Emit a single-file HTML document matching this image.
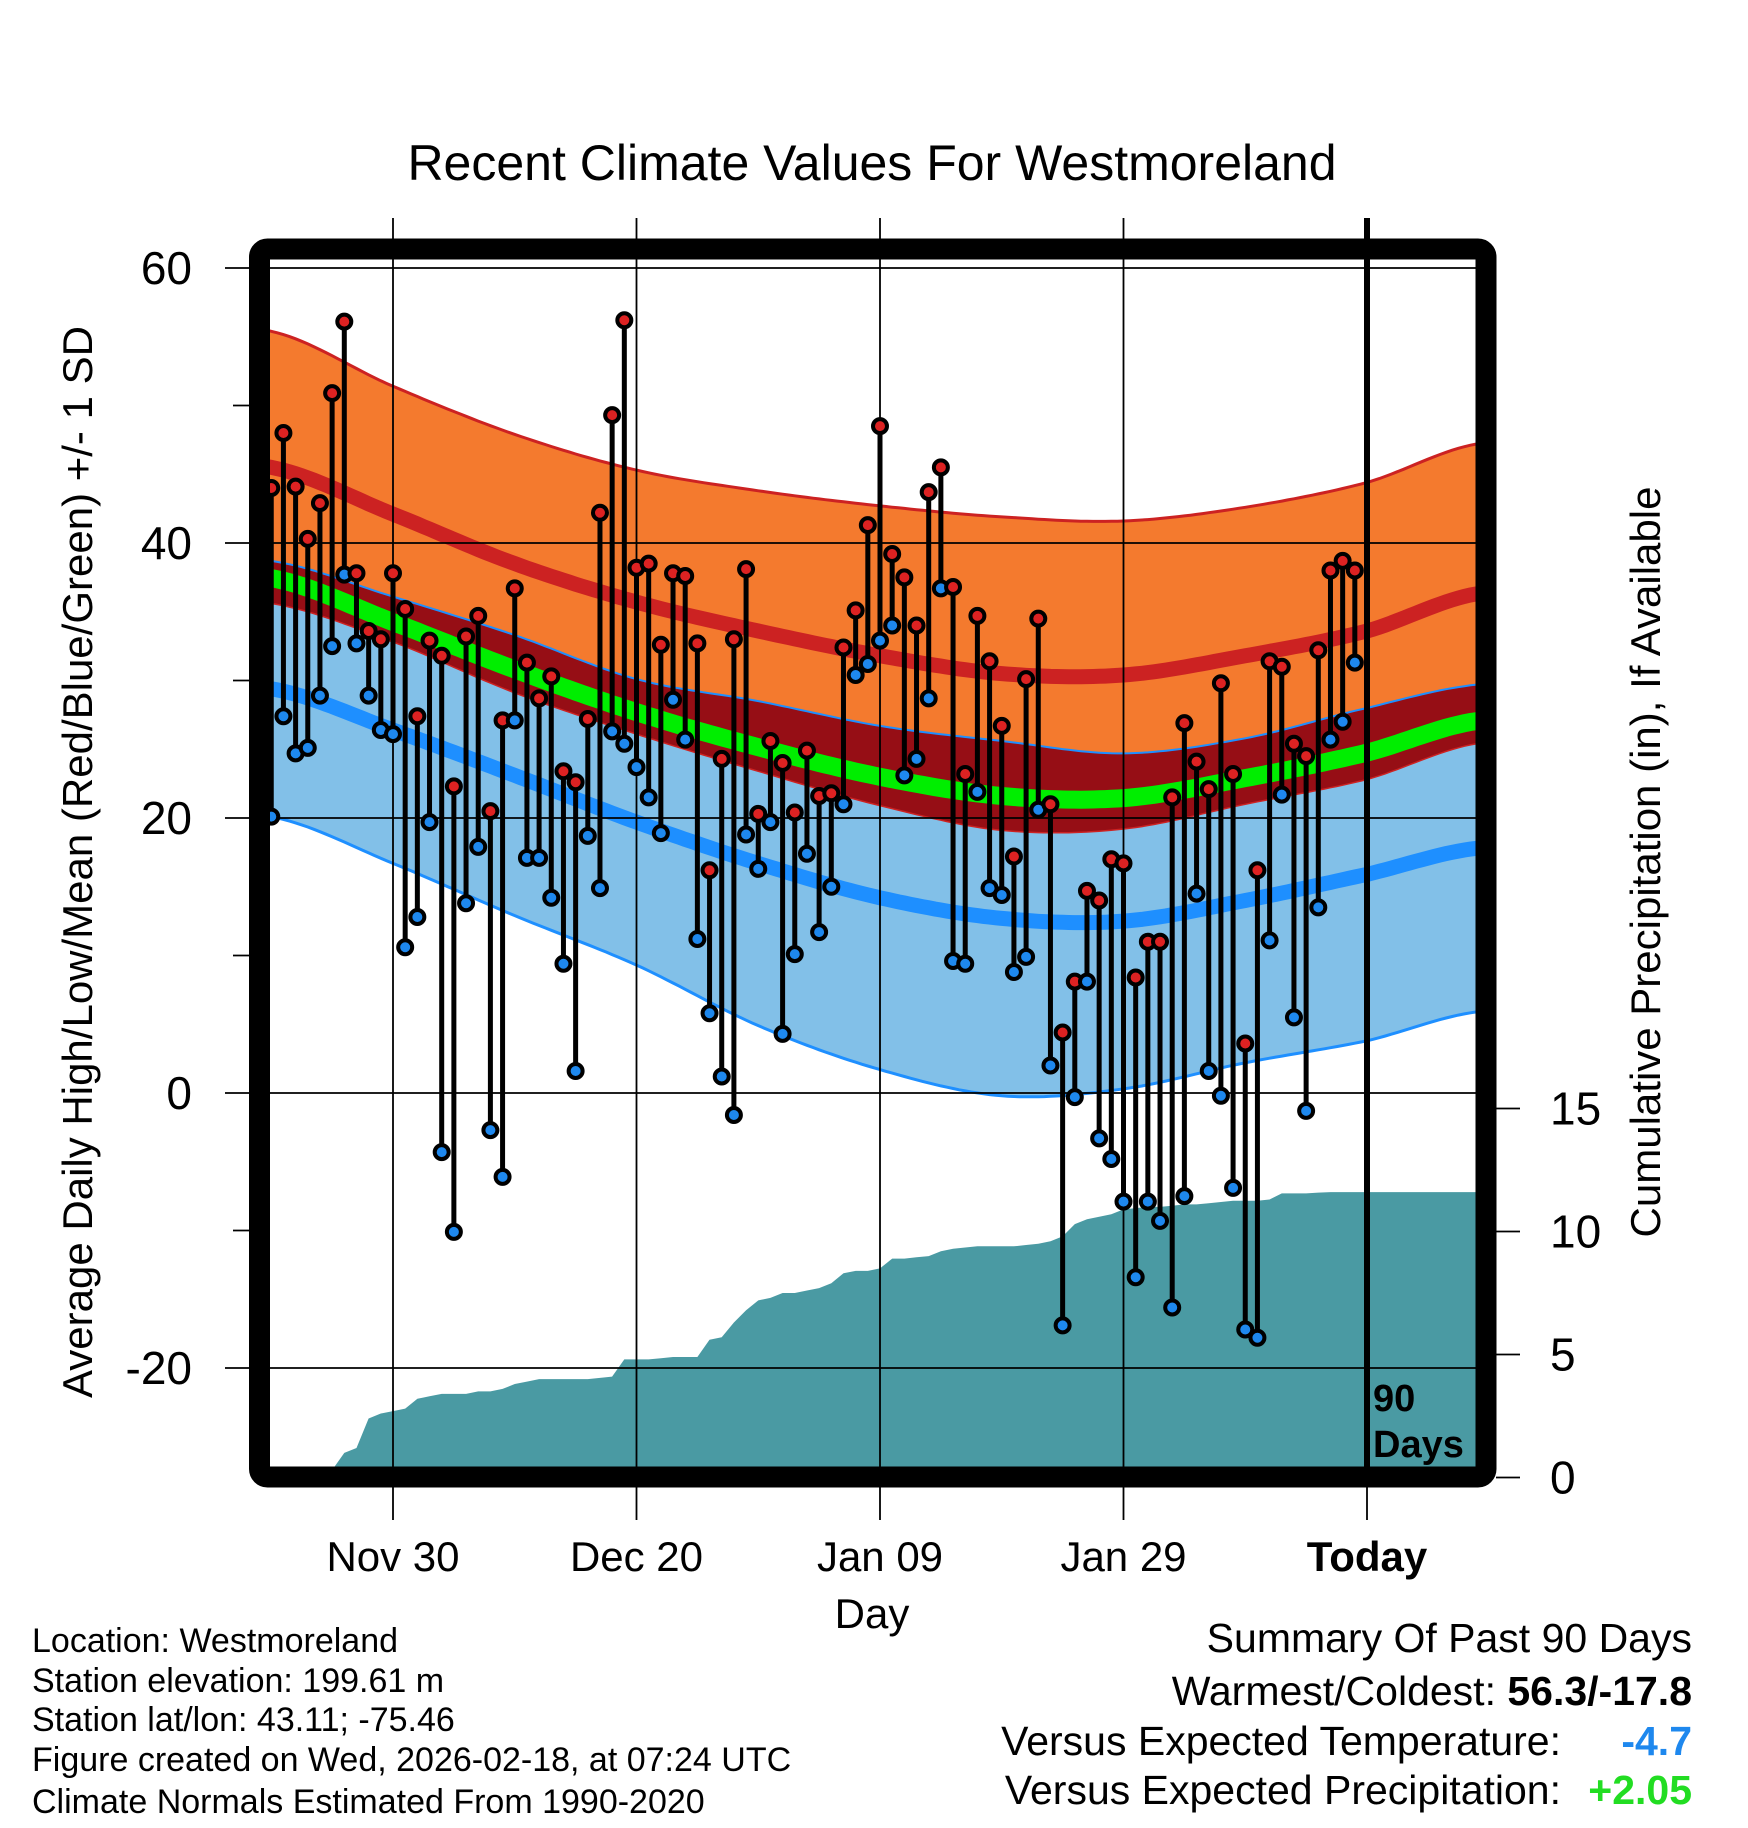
<!DOCTYPE html>
<html><head><meta charset="utf-8"><style>
html,body{margin:0;padding:0;background:#fff}
svg{display:block;font-family:"Liberation Sans",sans-serif}
</style></head><body>
<svg id="chart" width="1748" height="1828" viewBox="0 0 1748 1828" xmlns="http://www.w3.org/2000/svg">
<defs><clipPath id="plotclip"><rect x="270" y="260" width="1208" height="1207"/></clipPath></defs>
<rect x="0" y="0" width="1748" height="1828" fill="#fff"/>
<g id="plot" clip-path="url(#plotclip)"></g>
<g id="overlay"></g>
<text x="872" y="180" font-size="50" text-anchor="middle">Recent Climate Values For Westmoreland</text>
<text transform="translate(92,862) rotate(-90)" font-size="42" text-anchor="middle">Average Daily High/Low/Mean (Red/Blue/Green) +/- 1 SD</text>
<text transform="translate(1660,862) rotate(-90)" font-size="42" text-anchor="middle">Cumulative Precipitation (in), If Available</text>
<text x="872" y="1628" font-size="42" text-anchor="middle">Day</text>
<text x="1373" y="1411" font-size="38" font-weight="bold">90</text>
<text x="1373" y="1457" font-size="38" font-weight="bold">Days</text>
<g font-size="34">
<text x="32" y="1652">Location: Westmoreland</text>
<text x="32" y="1692">Station elevation: 199.61 m</text>
<text x="32" y="1731">Station lat/lon: 43.11; -75.46</text>
<text x="32" y="1771">Figure created on Wed, 2026-02-18, at 07:24 UTC</text>
<text x="32" y="1813">Climate Normals Estimated From 1990-2020</text>
</g>
<g font-size="41" text-anchor="end">
<text x="1692" y="1652">Summary Of Past 90 Days</text>
<text x="1692" y="1705">Warmest/Coldest: <tspan font-weight="bold">56.3/-17.8</tspan></text>
<text x="1561" y="1755">Versus Expected Temperature:</text>
<text x="1692" y="1755" fill="#1e88ee" font-weight="bold">-4.7</text>
<text x="1561" y="1804">Versus Expected Precipitation:</text>
<text x="1692" y="1804" fill="#22dd22" font-weight="bold">+2.05</text>
</g>
</svg>
<script>
// day offsets relative to Nov 30
const normDays = [-10,0,10,20,30,40,50,60,70,80,89];
const highMean = [45.5,42.1,38.5,35.7,33.6,31.8,30.5,30.4,31.8,33.6,36.3];
const highSD   = [9.9,9.3,9.4,9.6,10.2,10.9,11.4,11.2,10.8,10.8,10.9];
const lowMean  = [29.4,26.4,23.1,19.7,16.7,14.2,12.7,12.5,14.0,15.9,17.8];
const lowSD    = [9.3,9.7,10.2,10.4,11.8,12.5,12.9,12.2,11.8,12.1,11.9];
const firstDay = -10;
const highs = [44.0,48.0,44.1,40.3,42.9,50.9,56.1,37.8,33.6,33.0,37.8,35.2,27.4,32.9,31.8,22.3,33.2,34.7,20.5,27.1,36.7,31.3,28.7,30.3,23.4,22.6,27.2,42.2,49.3,56.2,38.2,38.5,32.6,37.8,37.6,32.7,16.2,24.3,33.0,38.1,20.3,25.6,24.0,20.4,24.9,21.6,21.8,32.4,35.1,41.3,48.5,39.2,37.5,34.0,43.7,45.5,36.8,23.2,34.7,31.4,26.7,17.2,30.1,34.5,21.0,4.4,8.1,14.7,14.0,17.0,16.7,8.4,11.0,11.0,21.5,26.9,24.1,22.1,29.8,23.2,3.6,16.2,31.4,31.0,25.4,24.5,32.2,38.0,38.7,38.0];
const lows = [20.1,27.4,24.7,25.1,28.9,32.5,37.7,32.7,28.9,26.4,26.1,10.6,12.8,19.7,-4.3,-10.1,13.8,17.9,-2.7,-6.1,27.1,17.1,17.1,14.2,9.4,1.6,18.7,14.9,26.3,25.4,23.7,21.5,18.9,28.6,25.7,11.2,5.8,1.2,-1.6,18.8,16.3,19.7,4.3,10.1,17.4,11.7,15.0,21.0,30.4,31.2,32.9,34.0,23.1,24.3,28.7,36.7,9.6,9.4,21.9,14.9,14.4,8.8,9.9,20.6,2.0,-16.9,-0.3,8.1,-3.3,-4.8,-7.9,-13.4,-7.9,-9.3,-15.6,-7.5,14.5,1.6,-0.2,-6.9,-17.2,-17.8,11.1,21.7,5.5,-1.3,13.5,25.7,27.0,31.3];
const precipCum = [0,0,0,0,0,0.3,1.0,1.2,2.4,2.6,2.7,2.8,3.2,3.3,3.4,3.4,3.4,3.5,3.5,3.6,3.8,3.9,4.0,4.0,4.0,4.0,4.0,4.05,4.1,4.8,4.8,4.8,4.85,4.9,4.9,4.9,5.6,5.7,6.3,6.8,7.2,7.3,7.5,7.5,7.6,7.7,7.9,8.3,8.4,8.4,8.5,8.9,8.9,8.95,9.0,9.2,9.3,9.35,9.4,9.4,9.4,9.4,9.45,9.5,9.6,9.8,10.3,10.5,10.6,10.7,10.9,10.95,11.0,11.0,11.05,11.1,11.1,11.15,11.2,11.25,11.25,11.25,11.3,11.55,11.55,11.55,11.58,11.6,11.6];
const tempTicks = [60,40,20,0,-20];
const tempMinor = [50,30,10,-10];
const precipTicks = [0,5,10,15];
const xTickDays = [0,20,40,60,80];
const xTickLabels = ["Nov 30","Dec 20","Jan 09","Jan 29","Today"];
const todayDay = 80;

const NS = "http://www.w3.org/2000/svg";
const xS = d => 393 + 12.175 * d;
const yT = t => 1093 - 13.75 * t;
const yP = p => 1477.5 - 24.6 * p;
function mk(tag, attrs, parent){const e=document.createElementNS(NS,tag);for(const k in attrs)e.setAttribute(k,attrs[k]);parent.appendChild(e);return e;}
function interp(arr, d){
  const n=normDays.length;
  let i=0; while(i<n-2 && d>normDays[i+1]) i++;
  const t=(d-normDays[i])/(normDays[i+1]-normDays[i]);
  const p0=arr[Math.max(0,i-1)],p1=arr[i],p2=arr[i+1],p3=arr[Math.min(n-1,i+2)];
  const t2=t*t,t3=t2*t;
  return 0.5*((2*p1)+(-p0+p2)*t+(2*p0-5*p1+4*p2-p3)*t2+(-p0+3*p1-3*p2+p3)*t3);
}
const samples=[]; for(let d=-11; d<=90.5; d+=0.5) samples.push(d);
const curve = f => samples.map(d=>[xS(d),yT(f(d))]);
const hiTop = curve(d=>interp(highMean,d)+interp(highSD,d));
const hiMid = curve(d=>interp(highMean,d));
const hiBot = curve(d=>interp(highMean,d)-interp(highSD,d));
const loTop = curve(d=>interp(lowMean,d)+interp(lowSD,d));
const loMid = curve(d=>interp(lowMean,d));
const loBot = curve(d=>interp(lowMean,d)-interp(lowSD,d));
const meanT = curve(d=>(interp(highMean,d)+interp(lowMean,d))/2);
const pts = a => a.map(p=>p[0].toFixed(1)+","+p[1].toFixed(1)).join(" ");
const band = (a,b) => pts(a)+" "+pts(b.slice().reverse());

const plot=document.getElementById('plot');
const ov=document.getElementById('overlay');

const pp=[[xS(firstDay-1),yP(0)]];
precipCum.forEach((v,i)=>pp.push([xS(firstDay+i),yP(v)]));
pp.push([xS(91),yP(precipCum[precipCum.length-1])]);
pp.push([xS(91),yP(0)]);
const pa=mk('polygon',{points:pts(pp),fill:'#4a9aa3'},plot);



let e;
e=mk('polygon',{points:band(hiTop,hiBot),fill:'#f47a2e'},plot);


e=mk('polygon',{points:band(loTop,loBot),fill:'#82c0e8'},plot);


e=mk('polygon',{points:band(loTop,hiBot),fill:'#960e15'},plot);


e=mk('polyline',{points:pts(hiTop),fill:'none',stroke:'#cc2222','stroke-width':3},plot);


e=mk('polyline',{points:pts(hiMid),fill:'none',stroke:'#cc2222','stroke-width':15},plot);


e=mk('polyline',{points:pts(loTop),fill:'none',stroke:'#1e8fff','stroke-width':2},plot);


e=mk('polyline',{points:pts(loBot),fill:'none',stroke:'#1e8fff','stroke-width':3},plot);


e=mk('polyline',{points:pts(loMid),fill:'none',stroke:'#1e8fff','stroke-width':15},plot);


e=mk('polyline',{points:pts(meanT),fill:'none',stroke:'#00ee00','stroke-width':18},plot);


e=mk('polyline',{points:pts(hiBot),fill:'none',stroke:'#cc2222','stroke-width':1.5},plot);



tempTicks.forEach(t=>{
  const g=mk('line',{x1:225,x2:1478,y1:yT(t),y2:yT(t),stroke:'#000','stroke-width':1.8},ov);
  
  
  const l=mk('text',{x:192,y:yT(t)+16,'font-size':46,'text-anchor':'end'},ov);
  l.textContent=t;
  
  
});
tempMinor.forEach(t=>{
  const g=mk('line',{x1:233,x2:250,y1:yT(t),y2:yT(t),stroke:'#000','stroke-width':1.8},ov);
  
  
});
xTickDays.forEach((d,i)=>{
  const g=mk('line',{x1:xS(d),x2:xS(d),y1:218,y2:1520,stroke:'#000','stroke-width':1.8},ov);
  
  
  const l=mk('text',{x:xS(d),y:1571,'font-size':42,'text-anchor':'middle'},ov);
  if(d===todayDay) l.setAttribute('font-weight','bold');
  l.textContent=xTickLabels[i];
  
  
});
precipTicks.forEach(p=>{
  const g=mk('line',{x1:1496,x2:1520,y1:yP(p),y2:yP(p),stroke:'#000','stroke-width':1.8},ov);
  
  
  const l=mk('text',{x:1550,y:yP(p)+16,'font-size':46},ov);
  l.textContent=p;
  
  
});
e=mk('line',{x1:xS(todayDay),x2:xS(todayDay),y1:218,y2:1470,stroke:'#000','stroke-width':6},ov);



highs.forEach((h,i)=>{
  const x=xS(firstDay+i), l=lows[i];
  const s=mk('line',{x1:x,x2:x,y1:yT(h),y2:yT(l),stroke:'#000','stroke-width':5},ov);
  
  
});
highs.forEach((h,i)=>{
  const x=xS(firstDay+i);
  const c1=mk('circle',{cx:x,cy:yT(lows[i]),r:7,fill:'#1e88ee',stroke:'#000','stroke-width':4},ov);
  
  
  const c2=mk('circle',{cx:x,cy:yT(h),r:7,fill:'#dd2222',stroke:'#000','stroke-width':4},ov);
  
  
});
e=mk('rect',{x:259.5,y:249,width:1226.5,height:1228,rx:8,fill:'none',stroke:'#000','stroke-width':21},ov);


</script>
</body></html>
